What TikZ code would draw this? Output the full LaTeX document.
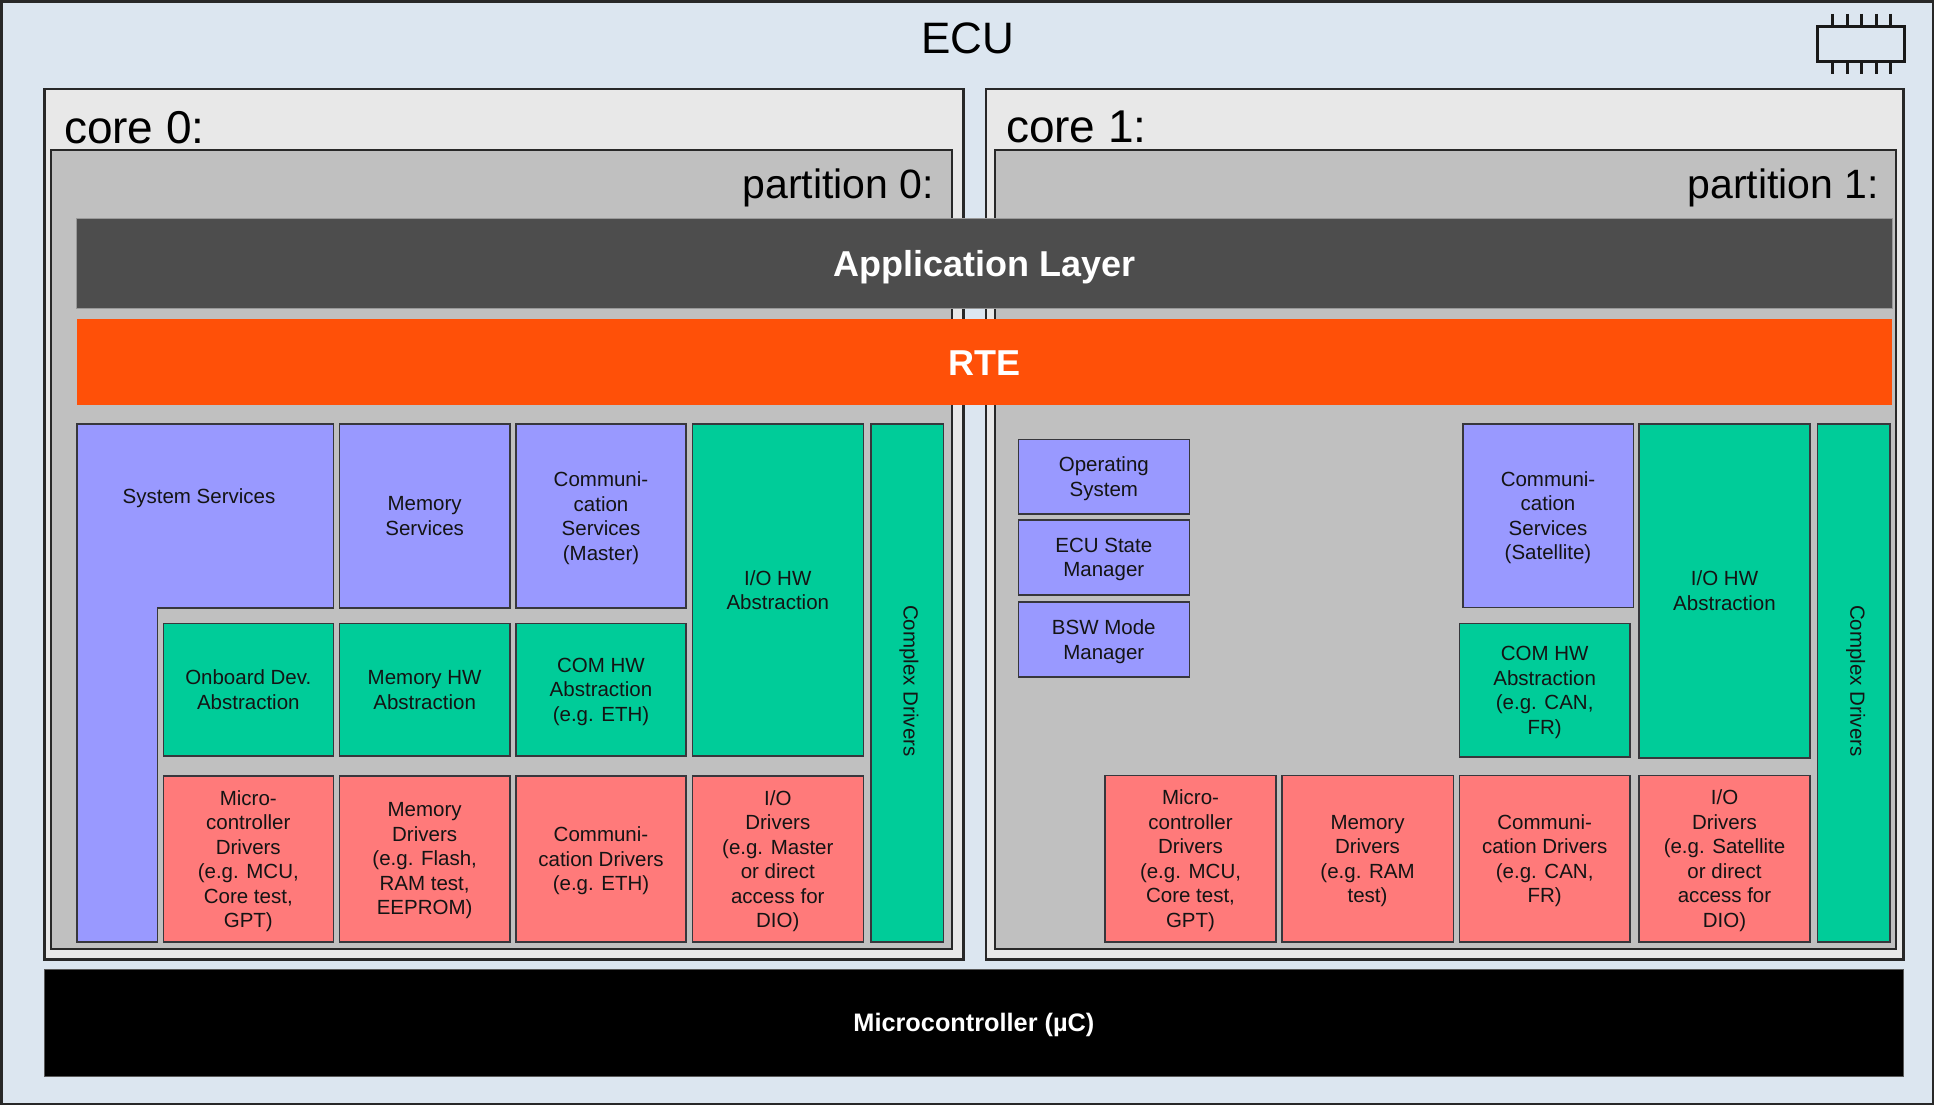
\documentclass[tikz,border=0pt]{standalone}
\usepackage{fontspec}
\setmainfont{Liberation Sans}
\definecolor{ecubg}{RGB}{220,230,240}
\definecolor{corebg}{RGB}{232,232,232}
\definecolor{partbg}{RGB}{192,192,192}
\definecolor{appbg}{RGB}{77,77,77}
\definecolor{rtebg}{RGB}{255,80,8}
\definecolor{svcbg}{RGB}{153,153,255}
\definecolor{hwbg}{RGB}{0,204,153}
\definecolor{drvbg}{RGB}{255,122,122}
\definecolor{frame}{RGB}{40,40,40}
\definecolor{modline}{RGB}{55,55,60}
\definecolor{txt}{RGB}{20,20,20}
\newcommand\boxnode[7]{\node[#1, anchor=north west, minimum width={(#5-#3)*1pt}, minimum height={(#6-#4)*1pt}] (#2) at (#3,#4) {#7};}
\begin{document}
\begin{tikzpicture}[x=1pt,y=-1pt,
  every node/.style={inner sep=0pt, outer sep=0pt},
  ecubox/.style={draw=frame, fill=ecubg, line width=2.5pt},
  corebox/.style={draw=frame, fill=corebg, line width=2.5pt},
  partbox/.style={draw=frame, fill=partbg, line width=2pt},
  appbox/.style={draw=gray!80, fill=appbg, line width=1pt, text=white, text height=26pt, text depth=0pt, font={\fontsize{36}{40}\selectfont\bfseries}},
  rtebox/.style={fill=rtebg, text=white, text height=26pt, text depth=0pt, font={\fontsize{36}{40}\selectfont\bfseries}},
  mcubox/.style={draw=gray!70!black, fill=black, line width=1pt, text=white, text height=18.2pt, text depth=0pt, font={\fontsize{25.3}{28}\selectfont\bfseries}},
  modbox/.style={draw=modline, line width=1.6pt, align=center, text=txt, text depth=0pt, font={\fontsize{20.5}{24.5}\selectfont}},
  svcbox/.style={modbox, fill=svcbg},
  hwbox/.style={modbox, fill=hwbg},
  drvbox/.style={modbox, fill=drvbg},
  modtext/.style={align=center, text=txt, font={\fontsize{20.5}{24.5}\selectfont}},
  biglabel/.style={text=black, font={\fontsize{46}{50}\selectfont}},
  partlabel/.style={text=black, font={\fontsize{41}{45}\selectfont}},
  chipbox/.style={draw=black!90, fill=ecubg, line width=3pt},
  chippin/.style={draw=black!90, line width=3pt}
]
\useasboundingbox (0,0) rectangle (1937,1107);
% ECU
\boxnode{ecubox}{ecu}{1.5}{1.5}{1933}{1104}{}
\node[font={\fontsize{44}{48}\selectfont}, anchor=base] (ecutitle) at (967.5,54) {ECU};
% chip icon
\boxnode{chipbox}{chip}{1817}{27}{1904}{62}{}
\foreach \px in {1832,1847,1861,1876,1890}{
  \draw[chippin] (\px,14) -- (\px,27);
  \draw[chippin] (\px,62) -- (\px,74);
}
% cores
\boxnode{corebox}{core0}{44.3}{89}{963.3}{959.3}{}
\boxnode{corebox}{core1}{986}{89}{1903.5}{959.3}{}
\node[biglabel, anchor=base west] (core0lbl) at (64,144) {core 0:};
\node[biglabel, anchor=base west] (core1lbl) at (1006,143) {core 1:};
% partitions
\boxnode{partbox}{part0}{51}{150}{952.3}{949.3}{}
\boxnode{partbox}{part1}{995.3}{150}{1895.5}{949.3}{}
\node[partlabel, anchor=base east] (part0lbl) at (934,198.5) {partition 0:};
\node[partlabel, anchor=base east] (part1lbl) at (1879,198.5) {partition 1:};
% application layer and RTE
\boxnode{appbox}{app}{76.7}{218.3}{1892}{308.3}{Application Layer}
\boxnode{rtebox}{rte}{76.7}{319.3}{1892}{405}{RTE}
% ---- partition 0 modules ----
\draw[modbox, fill=svcbg] (76.7,423.8) -- (333.3,423.8) -- (333.3,608) -- (157.3,608) -- (157.3,942) -- (76.7,942) -- cycle;
\node[modtext] (syssrv) at (199,498.5) {System Services};
\boxnode{svcbox}{memsrv}{339.3}{423.8}{510}{608}{Memory\\Services}
\boxnode{svcbox}{comsrv}{516}{423.8}{686}{608}{Communi-\\cation\\Services\\(Master)}
\boxnode{hwbox}{iohw0}{692.3}{423.8}{863.3}{756.1}{I/O HW\\Abstraction}
\boxnode{hwbox}{cdd0}{870.7}{423.8}{943.3}{942}{}
\node[modtext, rotate=-90] (cdd0lbl) at ([xshift=2pt, yshift=2pt]cdd0.center) {Complex Drivers};
\boxnode{hwbox}{onbhw}{163.3}{623.5}{333.3}{756.1}{Onboard Dev.\\Abstraction}
\boxnode{hwbox}{memhw}{339.3}{623.5}{510}{756.1}{Memory HW\\Abstraction}
\boxnode{hwbox}{comhw0}{516}{623.5}{686}{756.1}{COM HW\\Abstraction\\(e.g. ETH)}
\boxnode{drvbox}{mcudrv0}{163.3}{775.7}{333.3}{942}{Micro-\\controller\\Drivers\\(e.g. MCU,\\Core test,\\GPT)}
\boxnode{drvbox}{memdrv0}{339.3}{775.7}{510}{942}{Memory\\Drivers\\(e.g. Flash,\\RAM test,\\EEPROM)}
\boxnode{drvbox}{comdrv0}{516}{775.7}{686}{942}{Communi-\\cation Drivers\\(e.g. ETH)}
\boxnode{drvbox}{iodrv0}{692.3}{775.7}{863.3}{942}{I/O\\Drivers\\(e.g. Master\\or direct\\access for\\DIO)}
% ---- partition 1 modules ----
\boxnode{svcbox}{os}{1018.3}{439.3}{1189.3}{514}{Operating\\System}
\boxnode{svcbox}{ecum}{1018.3}{520}{1189.3}{594.7}{ECU State\\Manager}
\boxnode{svcbox}{bswm}{1018.3}{601.8}{1189.3}{676.9}{BSW Mode\\Manager}
\boxnode{svcbox}{comsrv1}{1462.7}{423.8}{1633.3}{607.3}{Communi-\\cation\\Services\\(Satellite)}
\boxnode{hwbox}{iohw1}{1639}{423.8}{1810}{757.8}{I/O HW\\Abstraction}
\boxnode{hwbox}{cdd1}{1817.3}{423.8}{1890}{942}{}
\node[modtext, rotate=-90] (cdd1lbl) at ([xshift=2pt, yshift=2pt]cdd1.center) {Complex Drivers};
\boxnode{hwbox}{comhw1}{1459.3}{623.5}{1630}{757}{COM HW\\Abstraction\\(e.g. CAN,\\FR)}
\boxnode{drvbox}{mcudrv1}{1105}{775.5}{1276}{942}{Micro-\\controller\\Drivers\\(e.g. MCU,\\Core test,\\GPT)}
\boxnode{drvbox}{memdrv1}{1281.7}{775.5}{1453.3}{942}{Memory\\Drivers\\(e.g. RAM\\test)}
\boxnode{drvbox}{comdrv1}{1459.3}{775.5}{1630}{942}{Communi-\\cation Drivers\\(e.g. CAN,\\FR)}
\boxnode{drvbox}{iodrv1}{1639}{775.5}{1810}{942}{I/O\\Drivers\\(e.g. Satellite\\or direct\\access for\\DIO)}
% microcontroller
\boxnode{mcubox}{mcu}{44.3}{969}{1903.5}{1076.7}{Microcontroller (µC)}
\end{tikzpicture}
\end{document}
